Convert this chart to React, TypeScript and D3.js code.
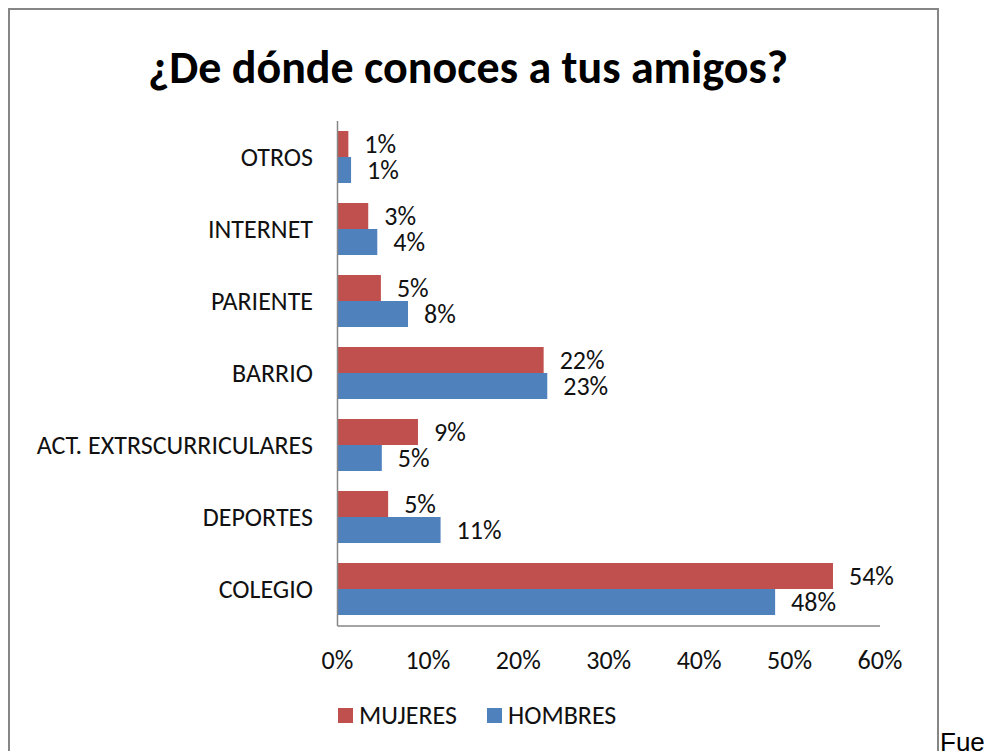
import React from "react";
import * as d3 from "d3";

const categories = ["OTROS", "INTERNET", "PARIENTE", "BARRIO", "ACT. EXTRSCURRICULARES", "DEPORTES", "COLEGIO"];
const mujeres = [1.2, 3.4, 4.8, 22.8, 8.9, 5.6, 54.8];
const hombres = [1.5, 4.4, 7.8, 23.2, 4.9, 11.4, 48.4];
const mujeresLabels = ["1%", "3%", "5%", "22%", "9%", "5%", "54%"];
const hombresLabels = ["1%", "4%", "8%", "23%", "5%", "11%", "48%"];
const xTicks = [0, 10, 20, 30, 40, 50, 60];
const seriesNames = ["MUJERES", "HOMBRES"];
const seriesColors = ["#C0504D", "#4F81BD"];
const title = "¿De dónde conoces a tus amigos?";

const FONT = "Carlito, Calibri, Lato, sans-serif";
const FS = 26;

export default function App() {
  const x = d3.scaleLinear().domain([0, 60]).range([337.5, 880]);
  const y = d3.scaleBand().domain(categories).range([121, 625]).paddingInner(0.278).paddingOuter(0.139);
  const bh = y.bandwidth() / 2;
  const series = [
    { name: seriesNames[0], values: mujeres, labels: mujeresLabels, color: seriesColors[0], off: 0 },
    { name: seriesNames[1], values: hombres, labels: hombresLabels, color: seriesColors[1], off: 1 },
  ];
  const base = FS * 0.36;
  return (
    <svg width={992} height={751} style={{ position: "absolute", left: 0, top: 0, background: "#fff" }} fontFamily={FONT}>
      <rect x={0} y={0} width={992} height={751} fill="#fff" />
      <rect x={9} y={9} width={929} height={800} fill="none" stroke="#868686" strokeWidth={2} />
      <text x={468} y={83} textAnchor="middle" fontSize={46} fontWeight="bold" fill="#000">{title}</text>
      {series.map((s) =>
        categories.map((c, i) => (
          <rect key={s.name + c} x={x(0)} y={(y(c) as number) + s.off * bh} width={x(s.values[i]) - x(0)} height={bh} fill={s.color} />
        ))
      )}
      {series.map((s) =>
        categories.map((c, i) => (
          <text key={"l" + s.name + c} x={x(s.values[i]) + 16} y={(y(c) as number) + s.off * bh + bh / 2 + base} fontSize={FS} fill="#111">{s.labels[i]}</text>
        ))
      )}
      {categories.map((c) => (
        <text key={"c" + c} x={313} y={(y(c) as number) + y.bandwidth() / 2 + base} textAnchor="end" fontSize={FS} fill="#111">{c}</text>
      ))}
      <line x1={x(0)} x2={x(0)} y1={121} y2={626} stroke="#868686" strokeWidth={1.5} />
      <line x1={x(0)} x2={x(60)} y1={626} y2={626} stroke="#868686" strokeWidth={1.5} />
      {xTicks.map((t) => (
        <text key={"t" + t} x={x(t)} y={669} textAnchor="middle" fontSize={FS} fill="#111">{t + "%"}</text>
      ))}
      <g>
        <rect x={338} y={708} width={15} height={15} fill={seriesColors[0]} />
        <text x={359} y={724} fontSize={FS} fill="#111">{seriesNames[0]}</text>
        <rect x={487} y={708} width={15} height={15} fill={seriesColors[1]} />
        <text x={508} y={724} fontSize={FS} fill="#111">{seriesNames[1]}</text>
      </g>
      <text x={940} y={751} fontSize={26} fontFamily="'Liberation Sans', Arial, sans-serif" fill="#000">Fue</text>
    </svg>
  );
}
